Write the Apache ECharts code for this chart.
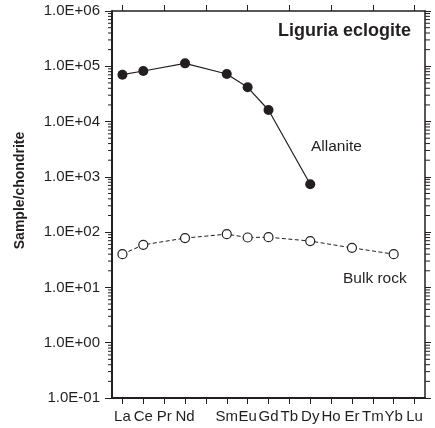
<!DOCTYPE html>
<html>
<head>
<meta charset="utf-8">
<script src="https://cdn.jsdelivr.net/npm/echarts@6/dist/echarts.min.js"></script>
<style>
  html, body { margin: 0; padding: 0; background: #fff; }
  #chart { width: 435px; height: 428px; }
</style>
</head>
<body>
<div id="chart"></div>
<script>
// Rare earth elements in atomic-number order (Pm slot kept, unlabelled)
const elements = ['La', 'Ce', 'Pr', 'Nd', '', 'Sm', 'Eu', 'Gd', 'Tb', 'Dy', 'Ho', 'Er', 'Tm', 'Yb', 'Lu'];

// Chondrite-normalised concentrations
const allanite = [70500, 82200, null, 113000, null, 72600, 41700, 16200, null, 735, null, null, null, null, null];
const bulkRock = [40, 59, null, 78, null, 92, 80, 81, null, 69, null, 52, null, 40, null];

// Log axis decades and their labels
const yDecades = [0.1, 1, 10, 100, 1000, 10000, 100000, 1000000];
const yTickLabels = ['1.0E-01', '1.0E+00', '1.0E+01', '1.0E+02', '1.0E+03', '1.0E+04', '1.0E+05', '1.0E+06'];
const minorFactors = [2, 3, 4, 5, 6, 7, 8, 9];

const ink = '#231f20';
const font = '"Liberation Sans", Arial, Helvetica, sans-serif';

// minor tick positions on the log axis (2..9 within each decade)
const minorTicks = [];
yDecades.slice(0, -1).forEach(d => minorFactors.forEach(f => minorTicks.push([0, d * f])));

const chart = echarts.init(document.getElementById('chart'), null, { renderer: 'canvas' });

const catAxisBase = {
  type: 'category',
  data: elements,
  boundaryGap: true,
  axisLine: { show: true, lineStyle: { color: ink, width: 2 } },
  axisTick: { show: true, alignWithLabel: true, inside: false, length: 6, lineStyle: { color: ink, width: 1 } },
  splitLine: { show: false }
};

chart.setOption({
  animation: false,
  backgroundColor: '#fff',
  grid: { left: 112, right: 10, top: 11, bottom: 30, containLabel: false },
  xAxis: [
    Object.assign({}, catAxisBase, {
      position: 'bottom',
      axisLabel: { interval: 0, color: ink, fontFamily: font, fontSize: 15, margin: 11 }
    }),
    Object.assign({}, catAxisBase, {
      position: 'top',
      axisLine: { show: true, lineStyle: { color: ink, width: 1.5 } },
      axisLabel: { show: false }
    })
  ],
  yAxis: [
    {
      type: 'log',
      logBase: 10,
      min: 0.1,
      max: 1000000,
      position: 'left',
      axisLine: { show: true, lineStyle: { color: ink, width: 2 } },
      axisTick: { show: true, inside: false, length: 7, lineStyle: { color: ink, width: 1 } },
      splitLine: { show: false },
      axisLabel: {
        color: ink, fontFamily: font, fontSize: 15, margin: 12,
        formatter: v => {
          const i = yDecades.findIndex(d => Math.abs(Math.log10(d) - Math.log10(v)) < 1e-6);
          return i >= 0 ? yTickLabels[i] : '';
        }
      }
    },
    {
      type: 'log',
      logBase: 10,
      min: 0.1,
      max: 1000000,
      position: 'right',
      axisLine: { show: true, lineStyle: { color: ink, width: 1.5 } },
      axisTick: { show: true, inside: false, length: 6, lineStyle: { color: ink, width: 1 } },
      axisLabel: { show: false },
      splitLine: { show: false }
    }
  ],
  graphic: [
    {
      // vertical axis title
      type: 'text', x: 20.5, y: 190.5, rotation: Math.PI / 2,
      style: {
        text: 'Sample/chondrite', fill: ink, font: 'bold 14px ' + font,
        align: 'center', verticalAlign: 'middle'
      }
    },
    {
      type: 'text', right: 24, top: 22,
      style: { text: 'Liguria eclogite', fill: ink, font: 'bold 18px ' + font, textAlign: 'right' }
    },
    {
      type: 'text', left: 311, top: 139,
      style: { text: 'Allanite', fill: ink, font: '15.5px ' + font }
    },
    {
      type: 'text', left: 343, top: 271,
      style: { text: 'Bulk rock', fill: ink, font: '15.5px ' + font }
    }
  ],
  series: [
    {
      // minor log ticks drawn on both vertical axes
      type: 'custom',
      xAxisIndex: 0,
      yAxisIndex: 0,
      clip: false,
      silent: true,
      data: minorTicks,
      renderItem: (params, api) => {
        const y = api.coord([0, api.value(1)])[1];
        const cs = params.coordSys;
        const x0 = cs.x, x1 = cs.x + cs.width;
        return {
          type: 'group',
          children: [
            { type: 'line', shape: { x1: x0 - 4, y1: y, x2: x0, y2: y }, style: { stroke: ink, lineWidth: 1 } },
            { type: 'line', shape: { x1: x1, y1: y, x2: x1 + 5, y2: y }, style: { stroke: ink, lineWidth: 1 } }
          ]
        };
      }
    },
    {
      name: 'Allanite',
      type: 'line',
      data: allanite,
      connectNulls: true,
      symbol: 'circle',
      symbolSize: 10,
      lineStyle: { color: ink, width: 1.2 },
      itemStyle: { color: ink, borderColor: ink, borderWidth: 0 },
      z: 3
    },
    {
      name: 'Bulk rock',
      type: 'line',
      data: bulkRock,
      connectNulls: true,
      symbol: 'circle',
      symbolSize: 9,
      lineStyle: { color: ink, width: 1, type: [4, 2.5] },
      itemStyle: { color: '#fff', borderColor: ink, borderWidth: 1.2 },
      z: 3
    }
  ]
});
</script>
</body>
</html>
